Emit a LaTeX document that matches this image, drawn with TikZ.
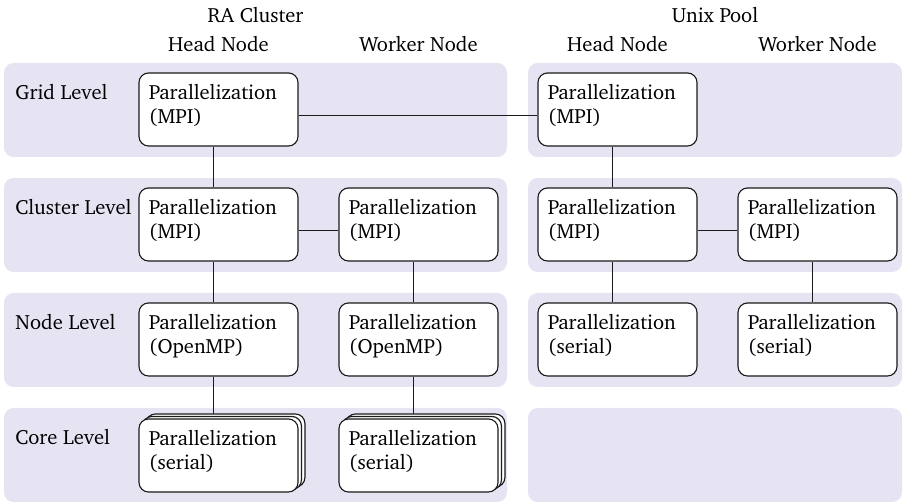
\documentclass[tikz,border=0pt]{standalone}
\usepackage[T1]{fontenc}
\usepackage{charter}
\usepackage{tikz}
\usetikzlibrary{positioning,shadows,backgrounds}
\definecolor{BandLilac}{HTML}{E6E4F3}
\definecolor{LineBlack}{HTML}{1A1A1A}

\begin{document}
\begin{tikzpicture}[
    x=0.52pt, y=-0.52pt,
    font=\fontsize{10.7pt}{12.1pt}\selectfont,
    band/.style={fill=BandLilac, rounded corners=5pt},
    parbox/.style={draw=LineBlack, fill=white, line width=0.6pt, rounded corners=5pt, text width=72.3pt, inner xsep=5.2pt, inner ysep=5pt, text height=9pt, text depth=19pt, align=left},
    corebox/.style={parbox, double copy shadow={shadow xshift=1.8pt, shadow yshift=1.3pt, draw=LineBlack, fill=white, line width=0.6pt}},
    rowlabel/.style={anchor=base west, inner sep=0pt},
    colhead/.style={anchor=base, inner sep=0pt},
    link/.style={line width=0.55pt, draw=LineBlack}
]
\useasboundingbox (0,0) rectangle (905,503);
% column heads
\node[colhead] (ra) at (255.5,23) {RA Cluster};
\node[colhead] (unix) at (715,23) {Unix Pool};
\node[colhead] (rahead) at (218.5,52) {Head Node};
\node[colhead] (rawork) at (418.5,52) {Worker Node};
\node[colhead] (uxhead) at (617.5,52) {Head Node};
\node[colhead] (uxwork) at (817.5,52) {Worker Node};
% row labels
\node[rowlabel] (lgrid) at (15,100) {Grid Level};
\node[rowlabel] (lclus) at (15,215) {Cluster Level};
\node[rowlabel] (lnode) at (15,330) {Node Level};
\node[rowlabel] (lcore) at (15,445) {Core Level};
% RA cluster
\node[parbox] (gridrah) at (218.5,109.5) {Parallelization\\(MPI)};
\node[parbox] (clusrah) at (218.5,224.5) {Parallelization\\(MPI)};
\node[parbox] (clusraw) at (418.5,224.5) {Parallelization\\(MPI)};
\node[parbox] (noderah) at (218.5,339.5) {Parallelization\\(OpenMP)};
\node[parbox] (noderaw) at (418.5,339.5) {Parallelization\\(OpenMP)};
\node[corebox] (corerah) at (218.5,455.5) {Parallelization\\(serial)};
\node[corebox] (coreraw) at (418.5,455.5) {Parallelization\\(serial)};
% Unix pool
\node[parbox] (griduxh) at (617.5,109.5) {Parallelization\\(MPI)};
\node[parbox] (clusuxh) at (617.5,224.5) {Parallelization\\(MPI)};
\node[parbox] (clusuxw) at (817.5,224.5) {Parallelization\\(MPI)};
\node[parbox] (nodeuxh) at (617.5,339.5) {Parallelization\\(serial)};
\node[parbox] (nodeuxw) at (817.5,339.5) {Parallelization\\(serial)};

\begin{scope}[on background layer]
% level bands
\fill[band] (4,63) rectangle (507,157);
\fill[band] (528,63) rectangle (902,157);
\fill[band] (4,178) rectangle (507,272);
\fill[band] (528,178) rectangle (902,272);
\fill[band] (4,293) rectangle (507,387);
\fill[band] (528,293) rectangle (902,387);
\fill[band] (4,408) rectangle (507,502);
\fill[band] (528,408) rectangle (902,502);
% connections
\draw[link] ([yshift=-3.12pt]gridrah.east) -- ([yshift=-3.12pt]griduxh.west);
\draw[link] ([yshift=-3.12pt]clusrah.east) -- ([yshift=-3.12pt]clusraw.west);
\draw[link] ([yshift=-3.12pt]clusuxh.east) -- ([yshift=-3.12pt]clusuxw.west);
\draw[link] ([xshift=-2.6pt]gridrah.south) -- ([xshift=-2.6pt]clusrah.north);
\draw[link] ([xshift=-2.6pt]clusrah.south) -- ([xshift=-2.6pt]noderah.north);
\draw[link] ([xshift=-2.6pt]noderah.south) -- ([xshift=-2.6pt]corerah.north);
\draw[link] ([xshift=-2.6pt]clusraw.south) -- ([xshift=-2.6pt]noderaw.north);
\draw[link] ([xshift=-2.6pt]noderaw.south) -- ([xshift=-2.6pt]coreraw.north);
\draw[link] ([xshift=-2.6pt]griduxh.south) -- ([xshift=-2.6pt]clusuxh.north);
\draw[link] ([xshift=-2.6pt]clusuxh.south) -- ([xshift=-2.6pt]nodeuxh.north);
\draw[link] ([xshift=-2.6pt]clusuxw.south) -- ([xshift=-2.6pt]nodeuxw.north);
\end{scope}
\end{tikzpicture}
\end{document}
